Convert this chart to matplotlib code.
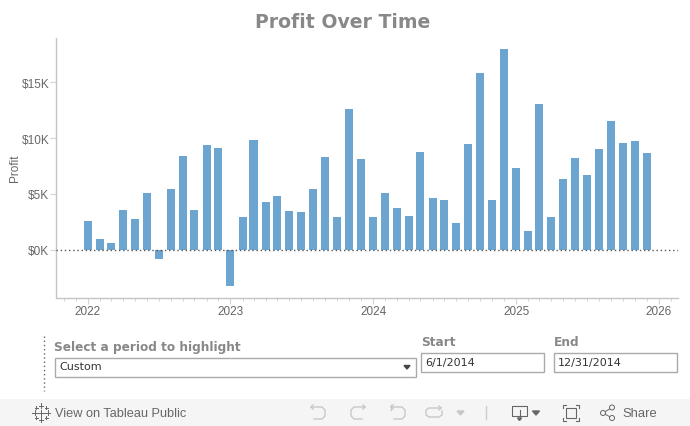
# Profit over time, bars by month, with the Tableau controls underneath
from datetime import datetime
import matplotlib
matplotlib.use('Agg')
import matplotlib.pyplot as plt
import matplotlib.dates as mdates
from matplotlib.patches import Rectangle, Circle

annees = [2022, 2023, 2024, 2025]
profit_2022 = [2.54, 0.93, 0.57, 3.52, 2.80, 5.04, -0.78, 5.40, 8.36, 3.52, 9.34, 9.07]
profit_2023 = [-3.20, 2.90, 9.79, 4.24, 4.78, 3.43, 3.34, 5.40, 8.27, 2.90, 12.57, 8.09]
profit_2024 = [2.90, 5.04, 3.70, 2.99, 8.72, 4.60, 4.50, 2.36, 9.43, 15.79, 4.42, 17.94]
profit_2025 = [7.28, 1.64, 13.01, 2.90, 6.30, 8.18, 6.66, 8.99, 11.49, 9.52, 9.70, 8.63]
profits = [profit_2022, profit_2023, profit_2024, profit_2025]

yticks = [0, 5, 10, 15]
ylabels = ['$0K', '$5K', '$10K', '$15K']
xticks_annees = [2022, 2023, 2024, 2025, 2026]

W, H = 690, 427
GRIS_AXE = '#c4c4c4'
GRIS_TXT = '#666666'
GRIS_ICONE = '#c8c8c8'
GRIS_FONCE = '#666666'

dates = []
valeurs = []
for annee, serie in zip(annees, profits):
    for mois, v in enumerate(serie):
        dates.append(datetime(annee, mois + 1, 1))
        valeurs.append(v)

fig = plt.figure(figsize=(W / 100, H / 100), dpi=100)
plt.rcParams['font.family'] = ['Liberation Sans', 'DejaVu Sans']

# Zone du graphique, placée en pixels
gauche, droite, haut, bas = 56.5, 678, 38.5, 298.5
ax = fig.add_axes([gauche / W, 1 - bas / H, (droite - gauche) / W, (bas - haut) / H])
ax.bar(dates, valeurs, width=20.5, color='#6ba5d0', zorder=2)
ax.axhline(0, color='#555555', lw=1, ls=(0, (1, 2)), zorder=3)

ax.set_xlim(datetime(2021, 10, 13), datetime(2026, 2, 19))
ax.set_ylim(-4.27, 19.0)
ax.set_yticks(yticks)
ax.set_yticklabels(ylabels, fontsize=8.5, color=GRIS_TXT, family='Liberation Sans')
ax.set_xticks([datetime(a, 1, 1) for a in xticks_annees])
ax.xaxis.set_major_formatter(mdates.DateFormatter('%Y'))
ax.xaxis.set_minor_locator(mdates.MonthLocator())
ax.tick_params(axis='x', which='major', length=4, width=0.8, color='#d4d4d4',
               labelsize=8.5, labelcolor=GRIS_TXT, pad=1.5)
ax.tick_params(axis='x', which='minor', length=2, width=0.7, color='#d4d4d4')
ax.tick_params(axis='y', length=4, width=0.8, color='#d4d4d4', pad=1.3)
for lab in ax.get_xticklabels():
    lab.set_family('Liberation Sans')
ax.set_ylabel('Profit', fontsize=8.5, color=GRIS_TXT, family='Liberation Sans')
ax.yaxis.set_label_coords((21 - gauche) / (droite - gauche), 0.5)
ax.spines['top'].set_visible(False)
ax.spines['right'].set_visible(False)
ax.spines['left'].set_color(GRIS_AXE)
ax.spines['bottom'].set_color(GRIS_AXE)
ax.spines['left'].set_linewidth(1)
ax.spines['bottom'].set_linewidth(1)

# Calque en pixels pour le titre et les contrôles
ui = fig.add_axes([0, 0, 1, 1], facecolor='none')
ui.set_xlim(0, W)
ui.set_ylim(H, 0)
ui.axis('off')

ui.text(343, 22.5, 'Profit Over Time', ha='center', va='center', fontsize=13.6,
        fontweight='bold', color='#888888', family='DejaVu Sans')

# Filtres
ui.plot([43.5, 43.5], [337, 392], color='#666666', lw=1, ls=(0, (1, 2)))
ui.text(54, 347.5, 'Select a period to highlight', fontsize=8.7, fontweight='bold',
        color='#888888', family='DejaVu Sans', va='center')
ui.add_patch(Rectangle((55, 358.5), 360.5, 19, fc='white', ec='#aaaaaa', lw=1))
ui.text(59, 367.5, 'Custom', fontsize=8, color='#333333', family='DejaVu Sans', va='center')
ui.fill([404, 410, 407], [366.5, 366.5, 370], color='#444444')

ui.text(421, 342.5, 'Start', fontsize=8.7, fontweight='bold', color='#888888',
        family='DejaVu Sans', va='center')
ui.add_patch(Rectangle((421, 353.5), 122.5, 19, fc='white', ec='#aaaaaa', lw=1))
ui.text(425, 363, '6/1/2014', fontsize=8, color='#333333', family='DejaVu Sans', va='center')

ui.text(553.5, 342.5, 'End', fontsize=8.7, fontweight='bold', color='#888888',
        family='DejaVu Sans', va='center')
ui.add_patch(Rectangle((554, 353.5), 122.5, 19, fc='white', ec='#aaaaaa', lw=1))
ui.text(558, 363, '12/31/2014', fontsize=8, color='#333333', family='DejaVu Sans', va='center')

# Barre d'outils
ui.add_patch(Rectangle((0, 400), W, 27, fc='#f5f5f5', ec='none'))
ui.text(55, 414.5, 'View on Tableau Public', fontsize=9.2, color=GRIS_FONCE,
        family='Liberation Sans', va='center')

# logo : petites croix
for cx, cy, r in [(41, 413.5, 3), (41, 406.5, 2.2), (41, 420.5, 2.2), (34.5, 413.5, 2.2),
                  (47.5, 413.5, 2.2), (36, 408.5, 1.5), (46, 408.5, 1.5), (36, 418.5, 1.5),
                  (46, 418.5, 1.5)]:
    ui.plot([cx - r, cx + r], [cy, cy], color=GRIS_FONCE, lw=0.7)
    ui.plot([cx, cx], [cy - r, cy + r], color=GRIS_FONCE, lw=0.7)

# annuler / rétablir / revenir / actualiser
ui.plot([311, 322, 325, 325, 322, 314], [408, 408, 411, 417, 420, 420], color=GRIS_ICONE, lw=1)
ui.plot([313, 311, 313], [406, 408, 410], color=GRIS_ICONE, lw=1)
ui.plot([365, 354, 351, 351, 354, 362], [408, 408, 411, 417, 420, 420], color=GRIS_ICONE, lw=1)
ui.plot([363, 365, 363], [406, 408, 410], color=GRIS_ICONE, lw=1)
ui.plot([391, 402, 405, 405, 402, 394], [408, 408, 411, 417, 420, 420], color=GRIS_ICONE, lw=1)
ui.plot([393, 391, 393], [406, 408, 410], color=GRIS_ICONE, lw=1)
ui.plot([391, 391], [406, 411], color=GRIS_ICONE, lw=1)
ui.plot([441, 429, 426, 426, 429, 439, 442, 442], [409, 409, 411, 416, 418, 418, 416, 412],
        color=GRIS_ICONE, lw=1)
ui.plot([439, 441, 439], [407, 409, 411], color=GRIS_ICONE, lw=1)
ui.fill([457, 464, 460.5], [412, 412, 416], color=GRIS_ICONE)
ui.plot([486, 486], [407, 420], color='#cccccc', lw=1)

# téléchargement
ui.plot([519, 512, 512, 527, 527, 520], [417, 417, 406.5, 406.5, 417, 417], color=GRIS_FONCE, lw=0.8)
ui.plot([519.5, 519.5], [411, 419], color=GRIS_FONCE, lw=0.8)
ui.fill([517.5, 521.5, 519.5], [419, 419, 421.5], color=GRIS_FONCE)
ui.fill([532.5, 539.5, 536], [412, 412, 416], color=GRIS_FONCE)

# plein écran
ui.add_patch(Rectangle((566, 409), 10, 10, fc='none', ec=GRIS_FONCE, lw=0.8))
for x0, y0, dx, dy in [(563, 406, 1, 1), (579, 406, -1, 1), (563, 422, 1, -1), (579, 422, -1, -1)]:
    ui.plot([x0, x0, x0 + 3 * dx], [y0 + 3 * dy, y0, y0], color=GRIS_FONCE, lw=0.8)

# partager
ui.plot([603, 612], [414, 408.5], color=GRIS_FONCE, lw=0.7)
ui.plot([603, 612], [414, 419], color=GRIS_FONCE, lw=0.7)
for cx, cy in [(603, 414), (612, 408.5), (612, 419)]:
    ui.add_patch(Circle((cx, cy), 2.5, fc='#f5f5f5', ec=GRIS_FONCE, lw=0.7, zorder=3))
ui.text(622, 414.5, 'Share', fontsize=9.4, color=GRIS_FONCE, family='Liberation Sans', va='center')

plt.savefig('out.png', dpi=100)
